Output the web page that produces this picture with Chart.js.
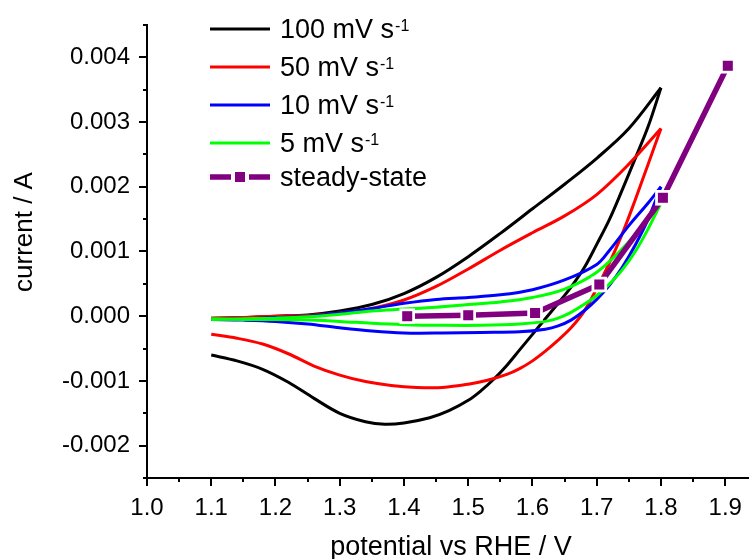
<!DOCTYPE html>
<html>
<head>
<meta charset="utf-8">
<script src="https://cdn.jsdelivr.net/npm/chart.js@4.4.1/dist/chart.umd.min.js"></script>
<style>
  html, body { margin: 0; padding: 0; background: #fff; overflow: hidden; }
</style>
</head>
<body>
<canvas id="cvChart" width="749" height="559"></canvas>
<script>
// values, potential in V vs RHE, current in A
// every CV is split in the anodic (forward) and the cathodic (reverse) sweep

// 100 mV s-1
const v100f = [1.10, 1.15, 1.20, 1.25, 1.30, 1.35, 1.40, 1.45, 1.50, 1.55, 1.60, 1.65, 1.70, 1.75, 1.80];
const i100f = [-0.00003, -0.00002, 0.0, 0.00002, 0.00008, 0.00018, 0.00035, 0.00060, 0.00092, 0.00128, 0.00166, 0.00204, 0.00244, 0.00290, 0.00353];
const v100r = [1.80, 1.78, 1.76, 1.74, 1.72, 1.70, 1.68, 1.66, 1.64, 1.62, 1.60, 1.58, 1.56, 1.54, 1.52, 1.50, 1.47, 1.44, 1.40, 1.37, 1.34, 1.30, 1.26, 1.22, 1.18, 1.14, 1.10];
const i100r = [0.00353, 0.00293, 0.00244, 0.00196, 0.00150, 0.00111, 0.00074, 0.00045, 0.00020, -0.00004, -0.00028, -0.00052, -0.00076, -0.00097, -0.00115, -0.00130, -0.00146, -0.00157, -0.00165, -0.00167, -0.00163, -0.00150, -0.00127, -0.00102, -0.00082, -0.00069, -0.00060];

// 50 mV s-1
const v50f = [1.10, 1.15, 1.20, 1.25, 1.30, 1.35, 1.40, 1.45, 1.50, 1.55, 1.60, 1.65, 1.70, 1.75, 1.80];
const i50f = [-0.00003, -0.00002, 0.0, 0.00001, 0.00005, 0.00012, 0.00025, 0.00046, 0.00073, 0.00102, 0.00129, 0.00155, 0.00188, 0.00235, 0.00290];
const v50r = [1.80, 1.78, 1.76, 1.74, 1.72, 1.70, 1.68, 1.66, 1.64, 1.62, 1.60, 1.58, 1.56, 1.53, 1.50, 1.46, 1.42, 1.38, 1.34, 1.30, 1.26, 1.22, 1.18, 1.14, 1.10];
const i50r = [0.00290, 0.00235, 0.00180, 0.00128, 0.00083, 0.00043, 0.00007, -0.00018, -0.00037, -0.00054, -0.00069, -0.00081, -0.00090, -0.00099, -0.00105, -0.00110, -0.00110, -0.00107, -0.00101, -0.00091, -0.00077, -0.00058, -0.00043, -0.00034, -0.00028];

// 10 mV s-1
const v10f = [1.10, 1.15, 1.20, 1.25, 1.30, 1.35, 1.40, 1.45, 1.50, 1.55, 1.60, 1.65, 1.70, 1.72, 1.75, 1.78, 1.80];
const i10f = [-0.00005, -0.00004, -0.00002, 0.0, 0.00005, 0.00012, 0.00020, 0.00026, 0.00029, 0.00033, 0.00041, 0.00056, 0.00080, 0.00102, 0.00140, 0.00175, 0.00200];
const v10r = [1.80, 1.78, 1.76, 1.74, 1.72, 1.70, 1.68, 1.66, 1.64, 1.62, 1.58, 1.52, 1.46, 1.40, 1.35, 1.30, 1.25, 1.20, 1.15, 1.10];
const i10r = [0.00200, 0.00150, 0.00110, 0.00076, 0.00048, 0.00026, 0.00008, -0.00006, -0.00015, -0.00020, -0.00024, -0.00025, -0.00026, -0.00026, -0.00023, -0.00018, -0.00012, -0.00008, -0.00006, -0.00005];

// 5 mV s-1
const v5f = [1.10, 1.15, 1.20, 1.25, 1.30, 1.35, 1.40, 1.45, 1.50, 1.55, 1.60, 1.65, 1.70, 1.75, 1.80];
const i5f = [-0.00005, -0.00004, -0.00003, -0.00001, 0.00003, 0.00008, 0.00011, 0.00014, 0.00018, 0.00022, 0.00029, 0.00042, 0.00068, 0.00115, 0.00175];
const v5r = [1.80, 1.78, 1.76, 1.74, 1.72, 1.70, 1.68, 1.66, 1.64, 1.62, 1.58, 1.52, 1.46, 1.40, 1.35, 1.30, 1.25, 1.20, 1.15, 1.10];
const i5r = [0.00175, 0.00135, 0.00100, 0.00072, 0.00050, 0.00032, 0.00018, 0.00006, -0.00003, -0.00008, -0.00012, -0.00014, -0.00014, -0.00013, -0.00011, -0.00008, -0.00006, -0.00005, -0.00005, -0.00004];

// steady-state points
const vSteady = [1.405, 1.50, 1.604, 1.704, 1.803, 1.904];
const iSteady = [0.00000, 0.000015, 0.00005, 0.00049, 0.00183, 0.00387];

// axis ticks
const xTicks = [1.0, 1.1, 1.2, 1.3, 1.4, 1.5, 1.6, 1.7, 1.8, 1.9];
const yTicks = [-0.002, -0.001, 0.000, 0.001, 0.002, 0.003, 0.004];

// legend entries
const legendNames = ['100 mV s', '50 mV s', '10 mV s', '5 mV s', 'steady-state'];
const legendSup = ['-1', '-1', '-1', '-1', ''];
const legendColors = ['#000000', '#ff0000', '#0000ff', '#00ff00', '#800080'];

const FONT = '"Liberation Sans", Arial, Helvetica, sans-serif';

function pts(xs, ys) {
    return xs.map((x, i) => ({ x: x, y: ys[i] }));
}

function cvLine(xs, ys, color, order) {
    return {
        data: pts(xs, ys),
        borderColor: color,
        borderWidth: 3,
        pointRadius: 0,
        tension: 0.35,
        fill: false,
        order: order
    };
}

// tick marks, axis titles and legend (with superscripts) drawn here
const decorPlugin = {
    id: 'decor',
    afterDraw(chart) {
        const ctx = chart.ctx;
        const xs = chart.scales.x;
        const ys = chart.scales.y;
        const area = chart.chartArea;
        ctx.save();
        ctx.strokeStyle = '#000';
        ctx.lineWidth = 2;

        // x ticks, major every 0.1, minor every 0.05
        for (let k = 0; k <= 19; k++) {
            const v = 1.0 + k * 0.05;
            if (v > xs.max + 1e-9) break;
            const px = Math.round(xs.getPixelForValue(v));
            const len = (k % 2 === 0) ? 8 : 4;
            ctx.beginPath();
            ctx.moveTo(px, area.bottom);
            ctx.lineTo(px, area.bottom + len);
            ctx.stroke();
        }
        // y ticks, major every 0.001, minor every 0.0005
        for (let k = 0; k <= 14; k++) {
            const v = -0.0025 + k * 0.0005;
            const py = Math.round(ys.getPixelForValue(v));
            const len = (k % 2 === 1) ? 8 : 4;
            ctx.beginPath();
            ctx.moveTo(area.left, py);
            ctx.lineTo(area.left - len, py);
            ctx.stroke();
        }

        // axis titles
        ctx.fillStyle = '#000';
        ctx.font = '27px ' + FONT;
        ctx.textAlign = 'center';
        ctx.textBaseline = 'alphabetic';
        ctx.fillText('potential vs RHE / V', 451, 555);

        ctx.save();
        ctx.translate(32, 232);
        ctx.rotate(-Math.PI / 2);
        ctx.font = '26px ' + FONT;
        ctx.fillText('current / A', 0, 0);
        ctx.restore();

        // legend
        const rowY = [29, 67, 105, 143, 177];
        ctx.textAlign = 'left';
        legendNames.forEach((name, i) => {
            const y = rowY[i];
            ctx.strokeStyle = legendColors[i];
            if (i < 4) {
                ctx.lineWidth = 3;
                ctx.beginPath();
                ctx.moveTo(210, y);
                ctx.lineTo(270, y);
                ctx.stroke();
            } else {
                ctx.lineWidth = 5.5;
                ctx.beginPath();
                ctx.moveTo(210, y);
                ctx.lineTo(231, y);
                ctx.moveTo(249, y);
                ctx.lineTo(270, y);
                ctx.stroke();
                ctx.fillStyle = legendColors[i];
                ctx.fillRect(235, y - 5, 10, 10);
            }
            ctx.fillStyle = '#000';
            ctx.font = '27px ' + FONT;
            ctx.fillText(name, 280, y + 9);
            if (legendSup[i]) {
                const w = ctx.measureText(name).width;
                ctx.font = '16px ' + FONT;
                ctx.fillText(legendSup[i], 280 + w + 1, y + 2);
            }
        });
        ctx.restore();
    }
};

const ctx = document.getElementById('cvChart').getContext('2d');

new Chart(ctx, {
    type: 'line',
    data: {
        datasets: [
            // steady-state: filled squares, white squares give the gap around symbols
            {
                data: pts(vSteady, iSteady),
                showLine: false,
                pointStyle: 'rect',
                pointRadius: 7.1,
                pointBackgroundColor: '#800080',
                pointBorderWidth: 0,
                order: 0
            },
            {
                data: pts(vSteady, iSteady),
                showLine: false,
                pointStyle: 'rect',
                pointRadius: 11,
                pointBackgroundColor: '#ffffff',
                pointBorderWidth: 0,
                order: 1
            },
            {
                data: pts(vSteady, iSteady),
                borderColor: '#800080',
                borderWidth: 5.5,
                pointRadius: 0,
                tension: 0,
                order: 2
            },
            cvLine(v5f, i5f, '#00ff00', 3),
            cvLine(v5r, i5r, '#00ff00', 3),
            cvLine(v10f, i10f, '#0000ff', 4),
            cvLine(v10r, i10r, '#0000ff', 4),
            cvLine(v50f, i50f, '#ff0000', 5),
            cvLine(v50r, i50r, '#ff0000', 5),
            cvLine(v100f, i100f, '#000000', 6),
            cvLine(v100r, i100r, '#000000', 6)
        ]
    },
    options: {
        responsive: false,
        devicePixelRatio: 1,
        animation: false,
        layout: {
            autoPadding: false,
            padding: { top: 25, right: 0, left: 0, bottom: 0 }
        },
        plugins: {
            legend: { display: false },
            tooltip: { enabled: false }
        },
        scales: {
            x: {
                type: 'linear',
                min: 1.0,
                max: 1.937,
                afterBuildTicks: (scale) => {
                    scale.ticks = xTicks.map(v => ({ value: v }));
                },
                afterFit: (scale) => {
                    scale.height = 81;
                    scale.paddingLeft = 0;
                    scale.paddingRight = 0;
                },
                grid: { display: false, drawTicks: false },
                border: { display: true, color: '#000', width: 2 },
                ticks: {
                    color: '#000',
                    padding: 16,
                    maxRotation: 0,
                    font: { family: FONT, size: 24 },
                    callback: (v) => v.toFixed(1)
                }
            },
            y: {
                type: 'linear',
                min: -0.0025,
                max: 0.0045,
                afterBuildTicks: (scale) => {
                    scale.ticks = yTicks.map(v => ({ value: v }));
                },
                afterFit: (scale) => {
                    scale.width = 147;
                    scale.paddingTop = 0;
                    scale.paddingBottom = 0;
                },
                grid: { display: false, drawTicks: false },
                border: { display: true, color: '#000', width: 2 },
                ticks: {
                    color: '#000',
                    padding: 17,
                    font: { family: FONT, size: 24 },
                    callback: (v) => v.toFixed(3)
                }
            }
        }
    },
    plugins: [decorPlugin]
});
</script>
</body>
</html>
